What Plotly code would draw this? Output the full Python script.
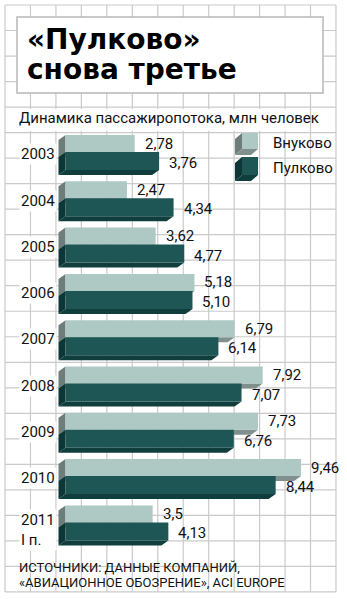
import plotly.graph_objects as go

# ---------------- data ----------------
years = ["2003", "2004", "2005", "2006", "2007", "2008", "2009", "2010", "2011<br>I п."]
vnukovo = [2.78, 2.47, 3.62, 5.18, 6.79, 7.92, 7.73, 9.46, 3.5]
pulkovo = [3.76, 4.34, 4.77, 5.10, 6.14, 7.07, 6.76, 8.44, 4.13]
vnukovo_labels = ["2,78", "2,47", "3,62", "5,18", "6,79", "7,92", "7,73", "9,46", "3,5"]
pulkovo_labels = ["3,76", "4,34", "4,77", "5,10", "6,14", "7,07", "6,76", "8,44", "4,13"]
series_names = ["Внуково", "Пулково"]

title_lines = ["«Пулково»", "снова третье"]
subtitle = "Динамика пассажиропотока, млн человек"
source_lines = ["ИСТОЧНИКИ: ДАННЫЕ КОМПАНИЙ,", "«АВИАЦИОННОЕ ОБОЗРЕНИЕ», ACI EUROPE"]

# ---------------- layout constants (pixels) ----------------
W, H = 347, 599
X0_PX = 65.5          # pixel position of value 0
PX_PER_UNIT = 24.9
GROUP_TOP0 = 135.0
GROUP_STEP = 46.3
LIGHT_H = 17.0
DARK_H = 18.0
DX = 7.0              # extrusion depth (to the left)
DY = 5.0              # extrusion depth (downwards)

LIGHT_FRONT = "#aec8c4"
LIGHT_SIDE = "#6d7d7b"
LIGHT_BOTTOM = "#7f908d"
DARK_FRONT = "#1d5654"
DARK_SIDE = "#0c3736"
DARK_BOTTOM = "#103e3d"
GRID = "#cacaca"

NARROW = "Liberation Sans Narrow, Arial Narrow, Roboto, sans-serif"
TITLE_FONT = "DejaVu Sans, sans-serif"

xr = [(0 - X0_PX) / PX_PER_UNIT, (W - X0_PX) / PX_PER_UNIT]
dxu = DX / PX_PER_UNIT


def px(p):
    return p / W


def py(p):
    return 1 - p / H


shapes = []

# background grid
for k in range(14):
    x = 5 + 25.46 * k
    shapes.append(dict(type="line", xref="paper", yref="paper", x0=px(x), x1=px(x),
                       y0=py(5), y1=py(592), line=dict(color=GRID, width=1.2), layer="below"))
for k in range(24):
    y = 5 + 25.52 * k
    shapes.append(dict(type="line", xref="paper", yref="paper", x0=px(5), x1=px(336),
                       y0=py(y), y1=py(y), line=dict(color=GRID, width=1.2), layer="below"))

# title box
shapes.append(dict(type="rect", xref="paper", yref="paper", x0=px(17), x1=px(323),
                   y0=py(17), y1=py(93), fillcolor="white",
                   line=dict(color="#b8b8b8", width=1.5), layer="below"))
# subtitle white band
shapes.append(dict(type="rect", xref="paper", yref="paper", x0=px(14), x1=px(290),
                   y0=py(109), y1=py(131), fillcolor="white", line=dict(width=0), layer="below"))


def poly(points):
    d = "M " + " L ".join(f"{x},{y}" for x, y in points) + " Z"
    return d


# 3D side faces of bars (drawn below the front faces)
light_centers, dark_centers = [], []
for i, (v, p) in enumerate(zip(vnukovo, pulkovo)):
    lt = GROUP_TOP0 + GROUP_STEP * i
    lb = lt + LIGHT_H
    dt = lb
    db = dt + DARK_H
    light_centers.append((lt + lb) / 2)
    dark_centers.append((dt + db) / 2)
    shapes.append(dict(type="path", xref="x", yref="y", layer="below",
                       path=poly([(0, lt), (-dxu, lt + DY), (-dxu, lb + DY), (0, lb)]),
                       fillcolor=LIGHT_SIDE, line=dict(width=0)))
    shapes.append(dict(type="path", xref="x", yref="y", layer="below",
                       path=poly([(0, lb), (v, lb), (v - dxu, lb + DY), (-dxu, lb + DY)]),
                       fillcolor=LIGHT_BOTTOM, line=dict(width=0)))
    shapes.append(dict(type="path", xref="x", yref="y", layer="below",
                       path=poly([(0, dt), (-dxu, dt + DY), (-dxu, db + DY), (0, db)]),
                       fillcolor=DARK_SIDE, line=dict(width=0)))
    shapes.append(dict(type="path", xref="x", yref="y", layer="below",
                       path=poly([(0, db), (p, db), (p - dxu, db + DY), (-dxu, db + DY)]),
                       fillcolor=DARK_BOTTOM, line=dict(width=0)))


# legend cubes
def cube(x0, y0, size_w, size_h, front, side, bottom):
    x1, y1 = x0 + size_w, y0 + size_h
    pts_side = [(x0, y0), (x0 - DX, y0 + DY + 1), (x0 - DX, y1 + DY + 1), (x0, y1)]
    pts_bot = [(x0, y1), (x1, y1), (x1 - DX, y1 + DY + 1), (x0 - DX, y1 + DY + 1)]
    out = []
    for pts, c in ((pts_side, side), (pts_bot, bottom)):
        out.append(dict(type="path", xref="paper", yref="paper",
                        path=poly([(px(a), py(b)) for a, b in pts]),
                        fillcolor=c, line=dict(width=0)))
    out.append(dict(type="rect", xref="paper", yref="paper", x0=px(x0), x1=px(x1),
                    y0=py(y0), y1=py(y1), fillcolor=front, line=dict(width=0)))
    return out


shapes += cube(242, 133, 16, 16, LIGHT_FRONT, LIGHT_SIDE, LIGHT_BOTTOM)
shapes += cube(242, 157, 16, 18, DARK_FRONT, DARK_SIDE, DARK_BOTTOM)

fig = go.Figure()
fig.add_trace(go.Bar(x=vnukovo, y=light_centers, orientation="h", width=LIGHT_H, base=0,
                     marker=dict(color=LIGHT_FRONT, line=dict(width=0)), name=series_names[0],
                     hoverinfo="x"))
fig.add_trace(go.Bar(x=pulkovo, y=dark_centers, orientation="h", width=DARK_H, base=0,
                     marker=dict(color=DARK_FRONT, line=dict(width=0)), name=series_names[1],
                     hoverinfo="x"))

annotations = []
for v, c, t in zip(vnukovo, light_centers, vnukovo_labels):
    annotations.append(dict(x=v, y=c, xref="x", yref="y", text=t, showarrow=False,
                            xanchor="left", yanchor="middle", xshift=8, yshift=0,
                            font=dict(family=NARROW, size=15, color="#111")))
for v, c, t in zip(pulkovo, dark_centers, pulkovo_labels):
    annotations.append(dict(x=v, y=c, xref="x", yref="y", text=t, showarrow=False,
                            xanchor="left", yanchor="middle", xshift=8, yshift=-2,
                            font=dict(family=NARROW, size=15, color="#111")))
for i, yl in enumerate(years):
    c = (light_centers[i] + dark_centers[i]) / 2 + 2
    if "<br>" in yl:
        c += 5
    annotations.append(dict(x=px(19), y=c, xref="paper", yref="y", text=yl, showarrow=False,
                            xanchor="left", yanchor="middle", align="left",
                            bgcolor="white", borderpad=1,
                            font=dict(family=NARROW, size=15, color="#111")))

annotations.append(dict(x=px(25), y=py(40), xref="paper", yref="paper", text=title_lines[0],
                        showarrow=False, xanchor="left", yanchor="middle",
                        font=dict(family=TITLE_FONT, size=28, color="black", weight="bold")))
annotations.append(dict(x=px(25), y=py(70), xref="paper", yref="paper", text=title_lines[1],
                        showarrow=False, xanchor="left", yanchor="middle",
                        font=dict(family=TITLE_FONT, size=28, color="black", weight="bold")))
annotations.append(dict(x=px(17), y=py(118), xref="paper", yref="paper", text=subtitle,
                        showarrow=False, xanchor="left", yanchor="middle",
                        font=dict(family=NARROW, size=15, color="#111")))
annotations.append(dict(x=px(271), y=py(143), xref="paper", yref="paper", text=series_names[0],
                        showarrow=False, xanchor="left", yanchor="middle",
                        font=dict(family=NARROW, size=15, color="#111")))
annotations.append(dict(x=px(271), y=py(168), xref="paper", yref="paper", text=series_names[1],
                        showarrow=False, xanchor="left", yanchor="middle",
                        font=dict(family=NARROW, size=15, color="#111")))
annotations.append(dict(x=px(17), y=py(567), xref="paper", yref="paper", text=source_lines[0],
                        showarrow=False, xanchor="left", yanchor="middle",
                        font=dict(family=NARROW, size=13, color="#111")))
annotations.append(dict(x=px(17), y=py(582), xref="paper", yref="paper", text=source_lines[1],
                        showarrow=False, xanchor="left", yanchor="middle",
                        font=dict(family=NARROW, size=13, color="#111")))

fig.update_layout(
    width=W, height=H,
    margin=dict(l=0, r=0, t=0, b=0, pad=0),
    paper_bgcolor="white", plot_bgcolor="white",
    showlegend=False, barmode="overlay",
    shapes=shapes, annotations=annotations,
    xaxis=dict(range=xr, visible=False, fixedrange=True, domain=[0, 1]),
    yaxis=dict(range=[H, 0], visible=False, fixedrange=True, domain=[0, 1]),
)

fig.write_html("out.html", config={"displayModeBar": False})
